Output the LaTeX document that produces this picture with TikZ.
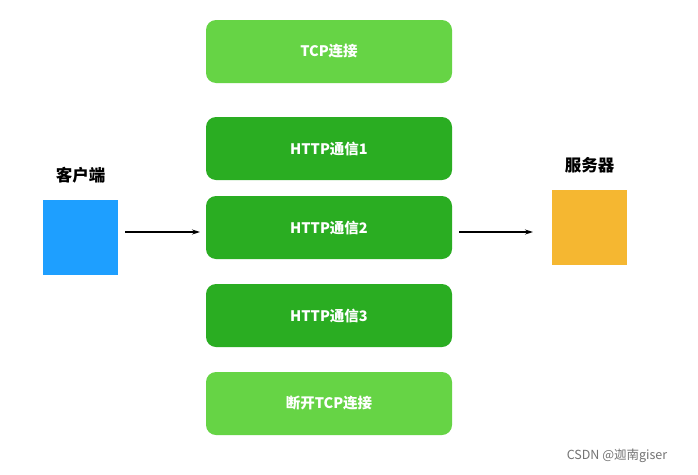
\documentclass[tikz,border=0pt]{standalone}
\usepackage{fontspec}
\setmainfont{Noto Sans CJK SC}
\usetikzlibrary{arrows.meta}
\definecolor{lg}{HTML}{66D445}
\definecolor{dg}{HTML}{2AAD22}
\definecolor{cb}{HTML}{1E9FFF}
\definecolor{sy}{HTML}{F5B731}
\tikzset{
  stage/.style={rounded corners=10pt,minimum width=246pt,minimum height=63pt,inner sep=0pt,text=white,font=\bfseries\fontsize{14.5}{16}\selectfont},
  light/.style={stage,fill=lg},
  dark/.style={stage,fill=dg},
  sq/.style={minimum width=75pt,minimum height=75pt,inner sep=0pt},
  lbl/.style={font=\bfseries\fontsize{16.5}{18}\selectfont},
  arr/.style={-{Stealth[length=8pt,width=5pt]},line width=1.1pt}
}
\begin{document}
\begin{tikzpicture}[x=1pt,y=-1pt]
\useasboundingbox (0,0) rectangle (698,474);
\fill[white] (0,0) rectangle (698,474);
\node[light] (tcp) at (329,51.5) {TCP连接};
\node[dark] (h1) at (329,148.5) {HTTP通信1};
\node[dark] (h2) at (329,227.5) {HTTP通信2};
\node[dark] (h3) at (329,315.5) {HTTP通信3};
\node[light] (dc) at (329,403.5) {断开TCP连接};
\node[sq,fill=cb] (c) at (80.5,237) {};
\node[lbl] (cl) at (80.5,175) {客户端};
\node[sq,fill=sy] (s) at (589.5,227.5) {};
\node[lbl] (sl) at (589.5,165) {服务器};
\coordinate (a1) at (125,232);
\coordinate (a2) at (200,232);
\coordinate (b1) at (459,232);
\coordinate (b2) at (533,232);
\draw[arr] (a1) -- (a2);
\draw[arr] (b1) -- (b2);
\node[text=gray!90!black,font=\fontsize{12.5}{14}\selectfont] (wm) at (617,456) {CSDN @迦南giser};
\end{tikzpicture}
\end{document}
